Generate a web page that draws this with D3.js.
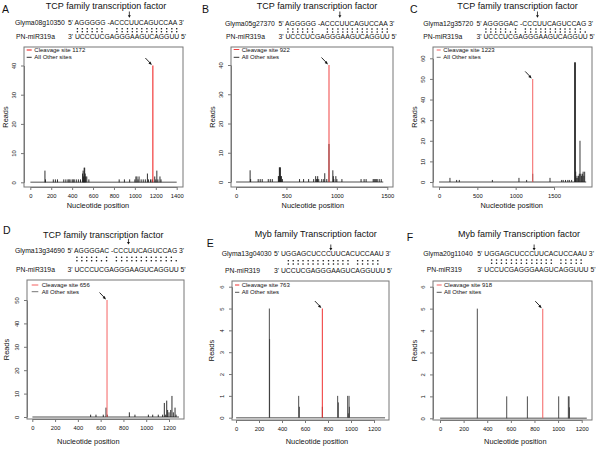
<!DOCTYPE html>
<html><head><meta charset="utf-8">
<script src="https://cdn.jsdelivr.net/npm/d3@7"></script>
<style>
body{margin:0;background:#fff}
svg{display:block}
text{font-family:"Liberation Sans",Arial,Helvetica,sans-serif;fill:#111}
</style>
</head><body>
<svg id="chart" width="600" height="449"></svg>
<script>
// ---------------- DATA ----------------
const panelLabels = ["A","B","C","D","E","F"];
const titles = ["TCP family transcription factor","TCP family transcription factor","TCP family transcription factor",
                "TCP family transcription factor","Myb family Transcription factor","Myb family Transcription factor"];
const geneNames = ["Glyma08g10350","Glyma05g27370","Glyma12g35720","Glyma13g34690","Glyma13g04030","Glyma20g11040"];
const targetSeqs = ["AGGGGG -ACCCUUCAGUCCAA","AGGGGG -ACCCUUCAGUCCAA","AGGGGAC -CCCUUCAGUCCAG",
                    "AGGGGAC -CCCUUCAGUCCAG","UGGAGCUCCCUUCACUCCAAU","UGGAGCUCCCUUCACUCCAAU"];
const mirNames = ["PN-miR319a","PN-miR319a","PN-miR319a","PN-miR319a","PN-miR319","PN-miR319"];
const mirSeqs = ["UCCCUCGAGGGAAGUCAGGUU","UCCCUCGAGGGAAGUCAGGUU","UCCCUCGAGGGAAGUCAGGUU",
                 "UCCCUCGAGGGAAGUCAGGUU","UCCUCGAGGGAAGUCAGGUUU","UCCUCGAGGGAAGUCAGGUUU"];
const pairTop = ["111111001111111111111","111111001111111111111","111110101111111111110",
                 "111110101111111111110","011111111111110111110","011111111111110111110"];
const pairBottom = ["111111001111111111111","111111001111111111111","111111101111111111111",
                    "111111101111111111111","011111111111110111110","011111111111110111110"];
const cutIndex = [12, 12, 12, 12, 10, 10];           // target char before which the cleavage arrow sits
const cleavageSites = [1172, 922, 1223, 656, 763, 918];
const cleavagePlotPos = [1172, 922, 1222, 656, 751, 870];
const cleavageReads = [40, 40, 50, 50, 5, 5];
const transcriptLengths = [1400, 1460, 1920, 1288, 1296, 1243];
const xTicks = [[0,200,400,600,800,1000,1200,1400],[0,500,1000,1500],[0,500,1000,1500],
                [0,200,400,600,800,1000,1200],[0,200,400,600,800,1000,1200],[0,200,400,600,800,1000,1200]];
const yTicks = [[0,10,20,30,40],[0,10,20,30,40],[0,10,20,30,40,50,60],
                [0,10,20,30,40,50],[0,1,2,3,4,5,6],[0,1,2,3,4,5,6]];

const otherPosA = [140,145,220,240,260,320,340,360,370,380,400,410,420,440,460,480,500,505,510,515,520,525,530,540,560,850,900,950,1000,1010,1020,1030,1040,1060,1080,1100,1120,1130,1150,1165,1190,1200,1210,1220,1240,1250];
const otherReadsA = [4,1,1,1,1,1,1,1,1,1,1,1,1,1,1,1,3,4,2,5,5,3,2,2,1,1,1,1,1,2,2,1,2,1,1,1,3,1,1,1,2,1,4,1,2,1];
const otherPosB = [140,145,220,240,260,320,340,360,420,425,430,435,440,445,450,460,630,670,720,770,790,800,805,810,820,850,870,880,900,960,965,970,990,1000,1050,1240,1270,1290,1360,1370,1380,1390,1400,1420,1440,922];
const otherReadsB = [4,1,1,1,1,1,1,1,2,2,5,5,5,2,2,1,1,1,1,1,2,1,1,2,1,1,1,3,1,4,2,1,2,1,1,1,1,1,1,1,1,1,1,1,1,13];
const otherPosC = [143,230,265,696,1043,1143,1222,1448,1600,1620,1650,1680,1700,1730,1770,1774,1778,1783,1790,1800,1810,1820,1830,1839,1850,1860,1870,1880,1890,1900];
const otherReadsC = [2,1,1,1,2,1,4,2,1,1,1,1,1,1,58,58,58,5,2,3,2,3,4,20,4,3,4,5,3,5];
const otherPosD = [512,559,623,647,659,852,901,1019,1057,1106,1144,1159,1171,1180,1188,1200,1215,1226,1238,1253,1262];
const otherReadsD = [1,1,1,4,1,2,1,1,1,1,1,6,1,7,3,2,3,9,2,4,1];
const otherPosE = [290,292,545,551,751,884,890,971,977,983,986];
const otherReadsE = [5,3.6,1,0.5,0.5,1,0.7,1,0.2,1,0.5];
const otherPosF = [316,565,740,1005,1087,1093,1096];
const otherReadsF = [5,1,1,1,1,1,0.5];

const otherPos = [otherPosA, otherPosB, otherPosC, otherPosD, otherPosE, otherPosF];
const otherReads = [otherReadsA, otherReadsB, otherReadsC, otherReadsD, otherReadsE, otherReadsF];

// ---------------- LAYOUT ----------------
const layout = [
 {label:[2,13], title:[106,9.3], n1:15, n2:16, sx:68, l1:25.3, d:[28.7,31.7], l2:39.3, arr:[11.5,17.8],
  box:[24,47,183,187], xc:[0,30.3,1400,176.7], yc:[0,182.3,40,65.5], readsX:8, xlab:[98,207.5], leg:[2.7,7.7,10.3,3,10.3], otherCol:"#1a1a1a", legCol:"#333", red:"#ee1111"},
 {label:[202,13], title:[317,9.3], n1:225, n2:226, sx:278.5, l1:25.8, d:[29,32], l2:39.3, arr:[11.5,17.8],
  box:[231,47,393,187], xc:[0,236,1500,387.3], yc:[0,182,40,65], readsX:215, xlab:[312.8,208.3], leg:[2.7,8.3,10.7,2.5,10.3], otherCol:"#1a1a1a", legCol:"#333", red:"#f04040"},
 {label:[410,13], title:[517.5,9.3], n1:423.3, n2:423.3, sx:476.5, l1:25.8, d:[29,32], l2:39.3, arr:[11.5,17.8],
  box:[433,47,592,187], xc:[0,439,1500,554], yc:[0,182,60,58.3], readsX:417, xlab:[511.7,208.3], leg:[3.7,7.7,10.3,3,10.3], otherCol:"#222", legCol:"#777", red:"#f46060"},
 {label:[3,234], title:[103.3,238], n1:15, n2:16, sx:67.5, l1:253, d:[257.3,260.7], l2:271.5, arr:[238.8,244.5],
  box:[27,280,184,419], xc:[0,32.3,1200,169], yc:[0,417,50,300], readsX:8.5, xlab:[88.3,443.5], leg:[4.7,11.3,14.7,5,11.7], otherCol:"#1a1a1a", legCol:"#777", red:"#f46060"},
 {label:[206.7,247], title:[315.8,236.5], n1:221.7, n2:225, sx:274, l1:255.5, d:[260.7,264], l2:272.5, arr:[244.5,250.5],
  box:[232,281,389,420], xc:[0,236,1200,374], yc:[0,417.7,6,286.7], readsX:213.5, xlab:[317,443.5], leg:[3,7.3,9.7,4,11.3], otherCol:"#3a3a3a", legCol:"#555", red:"#f03030"},
 {label:[406.7,240.7], title:[519,236.5], n1:423.3, n2:426.7, sx:477.3, l1:256, d:[260,263.3], l2:272, arr:[244.5,250.5],
  box:[433,281,592,420], xc:[0,440,1200,581.7], yc:[0,418.3,6,286.7], readsX:416.7, xlab:[515.3,443.5], leg:[3.7,8.7,11,4,11.3], otherCol:"#3a3a3a", legCol:"#555", red:"#f46060"}
];

// ---------------- DRAW ----------------
const FONT = '"Liberation Sans", Arial, Helvetica, sans-serif';
const svg = d3.select("#chart");
const ctx = document.createElement("canvas").getContext("2d");
function tw(str, size){ ctx.font = size + "px " + FONT; return ctx.measureText(str).width; }

const SEQ = 6.8;

layout.forEach((L, i) => {
  const g = svg.append("g");
  const [bx0, by0, bx1, by1] = L.box;
  const x = d3.scaleLinear().domain([L.xc[0], L.xc[2]]).range([L.xc[1], L.xc[3]]);
  const y = d3.scaleLinear().domain([L.yc[0], L.yc[2]]).range([L.yc[1], L.yc[3]]);

  g.append("text").attr("x", L.label[0]).attr("y", L.label[1]).attr("font-size", 10.5).text(panelLabels[i]);
  g.append("text").attr("x", L.title[0]).attr("y", L.title[1]).attr("text-anchor", "middle")
    .attr("font-size", 9).text(titles[i]);

  // sequences
  const tLine = "5' " + targetSeqs[i] + " 3'";
  const mLine = "3' " + mirSeqs[i] + " 5'";
  g.append("text").attr("x", L.n1).attr("y", L.l1).attr("font-size", SEQ).text(geneNames[i]);
  g.append("text").attr("x", L.sx).attr("y", L.l1).attr("font-size", SEQ).text(tLine);
  g.append("text").attr("x", L.n2).attr("y", L.l2).attr("font-size", SEQ).text(mirNames[i]);
  g.append("text").attr("x", L.sx).attr("y", L.l2).attr("font-size", SEQ).text(mLine);

  // pairing dots
  for (let j = 0; j < mirSeqs[i].length; j++) {
    const pre = tw(mLine.slice(0, 3 + j), SEQ);
    const cw = tw(mLine[3 + j], SEQ);
    const cx = L.sx + pre + cw / 2;
    if (pairTop[i][j] === "1") g.append("circle").attr("cx", cx).attr("cy", L.d[0]).attr("r", 0.8).attr("fill", "#111");
    if (pairBottom[i][j] === "1") g.append("circle").attr("cx", cx).attr("cy", L.d[1]).attr("r", 0.8).attr("fill", "#111");
  }
  // cleavage arrow on sequence
  const ax = L.sx + tw(tLine.slice(0, 3 + cutIndex[i]), SEQ);
  g.append("line").attr("x1", ax).attr("x2", ax).attr("y1", L.arr[0]).attr("y2", L.arr[1] - 2)
    .attr("stroke", "#111").attr("stroke-width", 0.8);
  g.append("path").attr("d", `M${ax-1.5},${L.arr[1]-2.5}L${ax+1.5},${L.arr[1]-2.5}L${ax},${L.arr[1]}Z`).attr("fill", "#111");

  // data marks
  g.append("line").attr("x1", x(1)).attr("x2", x(transcriptLengths[i])).attr("y1", y(0)).attr("y2", y(0))
    .attr("stroke", "#8a8a8a").attr("stroke-width", 1.4);
  g.selectAll(".o").data(otherPos[i].map((p, k) => [p, otherReads[i][k]])).enter().append("line")
    .attr("x1", d => x(d[0])).attr("x2", d => x(d[0])).attr("y1", y(0)).attr("y2", d => y(d[1]))
    .attr("stroke", L.otherCol).attr("stroke-width", 0.9);
  g.append("line").attr("x1", x(cleavagePlotPos[i])).attr("x2", x(cleavagePlotPos[i]))
    .attr("y1", y(0)).attr("y2", y(cleavageReads[i])).attr("stroke", L.red).attr("stroke-width", 1.1).attr("stroke-opacity", 0.9);
  // pointer arrow
  const px = x(cleavagePlotPos[i]) - 1, py = y(cleavageReads[i]) - 0.5;
  g.append("line").attr("x1", px - 6.5).attr("y1", py - 7).attr("x2", px - 1.5).attr("y2", py - 1.8)
    .attr("stroke", "#111").attr("stroke-width", 0.9);
  g.append("path").attr("d", `M${px},${py}L${px-3.4},${py-1.4}L${px-1.4},${py-3.4}Z`).attr("fill", "#111");

  // box
  g.append("rect").attr("x", bx0).attr("y", by0).attr("width", bx1 - bx0).attr("height", by1 - by0)
    .attr("fill", "none").attr("stroke", "#777").attr("stroke-width", 1);

  // axes (R style: axis line only between first and last tick)
  const xt = xTicks[i];
  const xa = x.copy().domain([xt[0], xt[xt.length-1]]).range([x(xt[0]), x(xt[xt.length-1])]);
  const gx = g.append("g").attr("transform", `translate(0,${by1})`)
    .call(d3.axisBottom(xa).tickValues(xt).tickSize(3).tickSizeOuter(0).tickFormat(d3.format("d")));
  gx.select(".domain").attr("stroke", "#777");
  gx.selectAll(".tick line").attr("stroke", "#777");
  gx.selectAll("text").attr("font-size", 5.8).attr("font-family", FONT).attr("fill", "#222").attr("dy", 0).attr("y", 11);

  const yt = yTicks[i];
  const ya = y.copy().domain([yt[0], yt[yt.length-1]]).range([y(yt[0]), y(yt[yt.length-1])]);
  const gy = g.append("g").attr("transform", `translate(${bx0},0)`)
    .call(d3.axisLeft(ya).tickValues(yt).tickSize(3).tickSizeOuter(0).tickFormat(d3.format("d")));
  gy.select(".domain").attr("stroke", "#777");
  gy.selectAll(".tick line").attr("stroke", "#777");
  gy.selectAll("text").attr("font-size", 5.8).attr("font-family", FONT).attr("fill", "#222")
    .attr("transform", "rotate(-90)").attr("text-anchor", "middle").attr("x", 0).attr("y", -8).attr("dy", 0);

  // axis titles
  g.append("text").attr("x", L.xlab[0]).attr("y", L.xlab[1]).attr("text-anchor", "middle").attr("font-size", 7.4)
    .text("Nucleotide position");
  const cy = (by0 + by1) / 2;
  g.append("text").attr("transform", `translate(${L.readsX},${cy}) rotate(-90)`).attr("text-anchor", "middle")
    .attr("font-size", 7.4).text("Reads");

  // legend
  const [s0, s1, tx, r1, r2] = L.leg;
  g.append("line").attr("x1", bx0 + s0).attr("x2", bx0 + s1).attr("y1", by0 + r1).attr("y2", by0 + r1)
    .attr("stroke", L.red).attr("stroke-width", 1);
  g.append("text").attr("x", bx0 + tx).attr("y", by0 + r1 + 2).attr("font-size", 6).text("Cleavage site  " + cleavageSites[i]);
  g.append("line").attr("x1", bx0 + s0).attr("x2", bx0 + s1).attr("y1", by0 + r2).attr("y2", by0 + r2)
    .attr("stroke", L.legCol).attr("stroke-width", 1);
  g.append("text").attr("x", bx0 + tx).attr("y", by0 + r2 + 2).attr("font-size", 6).text("All Other sites");
});
</script>
</body></html>
